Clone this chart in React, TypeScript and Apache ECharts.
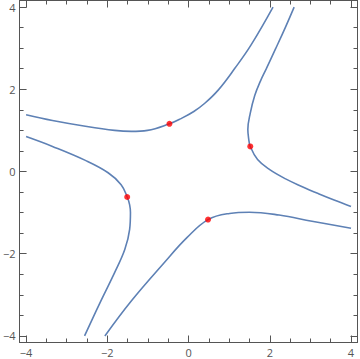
import React, { useEffect, useRef } from "react";
import * as echarts from "echarts";

const branchA: number[][] = [[-4.0,1.38],[-3.35,1.24],[-2.54,1.10],[-1.82,1.0],[-1.41,0.976],[-1.01,1.0],[-0.47,1.16],[-0.20,1.28],[0.13,1.46],[0.40,1.66],[0.73,1.98],[1.14,2.51],[1.54,3.08],[2.08,4.0]];
const branchB: number[][] = [[2.60,4.0],[2.39,3.52],[2.15,3.0],[1.91,2.49],[1.77,2.2],[1.63,1.85],[1.52,1.42],[1.46,1.02],[1.48,0.8],[1.52,0.61],[1.70,0.29],[1.99,0.05],[2.39,-0.18],[2.80,-0.37],[3.20,-0.54],[3.60,-0.70],[4.0,-0.85]];
const branchC: number[][] = [[-2.06,-4.0],[-1.41,-3.15],[-0.60,-2.22],[-0.04,-1.61],[0.48,-1.17],[1.01,-1.02],[1.50,-0.99],[2.23,-1.06],[3.04,-1.21],[4.0,-1.38]];
const branchD: number[][] = [[-4.0,0.85],[-3.35,0.61],[-2.54,0.27],[-1.98,-0.03],[-1.66,-0.32],[-1.51,-0.62],[-1.45,-0.81],[-1.43,-1.0],[-1.45,-1.41],[-1.57,-1.90],[-1.82,-2.46],[-2.14,-3.11],[-2.56,-4.0]];
const redPoints: number[][] = [[-0.47,1.16],[1.52,0.61],[-1.51,-0.62],[0.48,-1.17]];

const majorTicks = [-4, -2, 0, 2, 4];
const minorTicks = [-3.5, -3, -2.5, -1.5, -1, -0.5, 0.5, 1, 1.5, 2.5, 3, 3.5];
const range = [-4.16, 4.16];

const frameColor = "#555555";
const labelColor = "#555555";

function makeAxis(position: string, major: boolean, labels: boolean, line: boolean) {
  return {
    type: "value",
    position,
    min: range[0],
    max: range[1],
    axisLine: { show: line, onZero: false, lineStyle: { color: frameColor, width: 1 } },
    axisTick: {
      show: true,
      inside: true,
      length: major ? 7 : 4,
      customValues: major ? majorTicks : minorTicks,
      lineStyle: { color: frameColor, width: 1 },
    },
    axisLabel: labels
      ? {
          show: true,
          customValues: majorTicks,
          color: labelColor,
          fontSize: 11,
          fontFamily: "Open Sans",
          margin: 4,
          formatter: (v: number) => String(v).replace("-", "\u2212"),
        }
      : { show: false },
    splitLine: { show: false },
    minorTick: { show: false },
  };
}

export default function App() {
  const ref = useRef<HTMLDivElement>(null);
  useEffect(() => {
    if (!ref.current) return;
    const chart = echarts.init(ref.current, undefined, { renderer: "svg" });
    const lineStyle = { color: "#5E81B5", width: 1.6 };
    const mk = (data: number[][]) => ({
      type: "line",
      data,
      smooth: 0.4,
      showSymbol: false,
      symbol: "none",
      lineStyle,
      xAxisIndex: 0,
      yAxisIndex: 0,
    });
    chart.setOption({
      animation: false,
      grid: { left: 15.5, right: 2.5, top: 0.5, bottom: 16.5, containLabel: false },
      xAxis: [
        makeAxis("bottom", true, true, true),
        makeAxis("bottom", false, false, false),
        makeAxis("top", true, false, true),
        makeAxis("top", false, false, false),
      ],
      yAxis: [
        makeAxis("left", true, true, true),
        makeAxis("left", false, false, false),
        makeAxis("right", true, false, true),
        makeAxis("right", false, false, false),
      ],
      series: [
        mk(branchA),
        mk(branchB),
        mk(branchC),
        mk(branchD),
        {
          type: "scatter",
          data: redPoints,
          symbol: "circle",
          symbolSize: 6,
          itemStyle: { color: "#FF0000" },
          xAxisIndex: 0,
          yAxisIndex: 0,
          z: 5,
        },
      ],
    });
    return () => chart.dispose();
  }, []);
  return (
    <div
      ref={ref}
      style={{ position: "fixed", left: 0, top: 0, width: 360, height: 359, background: "#fff" }}
    />
  );
}
